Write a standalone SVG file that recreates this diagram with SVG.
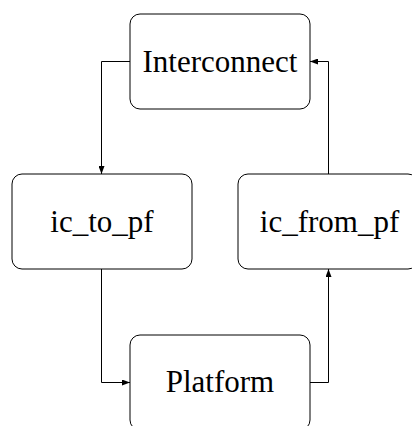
<svg xmlns="http://www.w3.org/2000/svg" width="412" height="426" viewBox="0 0 412 426">
  <style>
    .box { fill: #fff; stroke: #000; stroke-width: 1; }
    .lbl { font-family: "Liberation Serif", "Times New Roman", serif; font-size: 31px; fill: #000; text-anchor: middle; }
    .wire { fill: none; stroke: #000; stroke-width: 1; marker-end: url(#arrow); }
  </style>
  <defs>
    <marker id="arrow" viewBox="0 0 8 6" refX="8" refY="3" markerWidth="8" markerHeight="6" markerUnits="userSpaceOnUse" orient="auto">
      <path d="M0,0 L8,3 L0,6 z" fill="#000"/>
    </marker>
  </defs>
  <rect width="412" height="426" fill="#fff"/>

  <g id="connectors">
    <path class="wire" d="M130,61.5 H101.5 V174"/>
    <path class="wire" d="M101.5,269 V382.5 H130"/>
    <path class="wire" d="M310,382.5 H328.5 V269"/>
    <path class="wire" d="M328.5,174 V61.5 H310"/>
  </g>

  <g id="interconnect">
    <rect class="box" x="130" y="14" width="180" height="95" rx="10"/>
    <text class="lbl" x="220" y="72.3">Interconnect</text>
  </g>
  <g id="ic_to_pf">
    <rect class="box" x="12" y="174" width="180" height="95" rx="10"/>
    <text class="lbl" x="102" y="232.3">ic_to_pf</text>
  </g>
  <g id="ic_from_pf">
    <rect class="box" x="238" y="174" width="180" height="95" rx="10"/>
    <text class="lbl" x="329.5" y="232.3">ic_from_pf</text>
  </g>
  <g id="platform">
    <rect class="box" x="130" y="335" width="180" height="95" rx="10"/>
    <text class="lbl" x="220" y="392.3">Platform</text>
  </g>
</svg>
